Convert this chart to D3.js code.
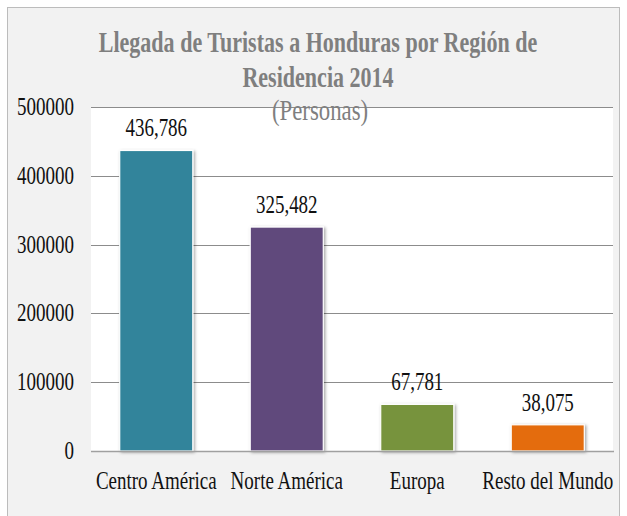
<!DOCTYPE html>
<html>
<head>
<meta charset="utf-8">
<script src="https://cdn.jsdelivr.net/npm/d3@7.9.0/dist/d3.min.js"></script>
<style>
  body { margin: 0; background: #fff; }
  svg { display: block; }
</style>
</head>
<body>
<div id="chart"></div>
<script>
// data
const regions = ["Centro América", "Norte América", "Europa", "Resto del Mundo"];
const arrivals = [436786, 325482, 67781, 38075];
const barColors = ["#31849b", "#604a7b", "#77933c", "#e46c0a"];
const yTicks = [0, 100000, 200000, 300000, 400000, 500000];
const titleLines = ["Llegada de Turistas a Honduras por Región de", "Residencia 2014"];
const subtitle = "(Personas)";

const width = 627, height = 516;
const plot = { left: 91, right: 613, top: 107, bottom: 451 };
const squeeze = 0.76; // glyphs in the picture are narrow
const font = "'Liberation Serif', 'Times New Roman', serif";

const svg = d3.select("#chart").append("svg")
    .attr("width", width)
    .attr("height", height);

const defs = svg.append("defs");
const shadow = defs.append("filter").attr("id", "shadow")
    .attr("x", "-20%").attr("y", "-20%").attr("width", "140%").attr("height", "140%");
shadow.append("feDropShadow")
    .attr("dx", 1.5).attr("dy", 1).attr("stdDeviation", 1.6)
    .attr("flood-color", "#000").attr("flood-opacity", 0.35);

// chart background
svg.append("rect")
    .attr("x", 7.5).attr("y", 7.5)
    .attr("width", 612).attr("height", 530)
    .attr("fill", "#f2f2f2")
    .attr("stroke", "#bcbcbc");

svg.append("rect")
    .attr("x", plot.left).attr("y", plot.top)
    .attr("width", plot.right - plot.left).attr("height", plot.bottom - plot.top)
    .attr("fill", "#fff");

const x = d3.scaleBand()
    .domain(regions)
    .range([plot.left, plot.right])
    .paddingInner(0.44)
    .paddingOuter(0.22);

const y = d3.scaleLinear()
    .domain([0, 500000])
    .range([plot.bottom, plot.top]);

// narrow text helper
function label(g, tx, ty, str, size, anchor, opts = {}) {
    return g.append("text")
        .attr("transform", `translate(${tx},${ty}) scale(${squeeze},1)`)
        .attr("text-anchor", anchor)
        .attr("font-family", font)
        .attr("font-size", size)
        .attr("font-weight", opts.bold ? "bold" : "normal")
        .attr("fill", opts.color || "#111")
        .text(str);
}

// gridlines
svg.append("g").selectAll("line")
    .data(yTicks.filter(d => d > 0))
    .join("line")
    .attr("x1", plot.left).attr("x2", plot.right)
    .attr("y1", d => Math.round(y(d)) + 0.5).attr("y2", d => Math.round(y(d)) + 0.5)
    .attr("stroke", "#8c8c8c").attr("stroke-width", 1);

// y axis labels
const yAxis = svg.append("g");
yTicks.forEach(t => label(yAxis, 74, y(t) + 8, String(t), 25, "end"));

// bars
svg.append("g").selectAll("rect")
    .data(arrivals)
    .join("rect")
    .attr("x", (d, i) => x(regions[i]))
    .attr("y", d => y(d))
    .attr("width", x.bandwidth())
    .attr("height", d => y(0) - y(d))
    .attr("fill", (d, i) => barColors[i])
    .attr("stroke", "#fff")
    .attr("stroke-width", 1.2)
    .attr("filter", "url(#shadow)");

// x axis line
svg.append("line")
    .attr("x1", plot.left).attr("x2", plot.right + 1)
    .attr("y1", plot.bottom + 0.5).attr("y2", plot.bottom + 0.5)
    .attr("stroke", "#a0a0a0").attr("stroke-width", 1.5);

// value labels
const vals = svg.append("g");
arrivals.forEach((v, i) => {
    label(vals, x(regions[i]) + x.bandwidth() / 2, y(v) - 14, d3.format(",")(v), 25, "middle");
});

// category labels
const cats = svg.append("g");
regions.forEach(r => label(cats, x(r) + x.bandwidth() / 2, 489, r, 25, "middle"));

// title
const title = svg.append("g");
label(title, 318, 52, titleLines[0], 29, "middle", { bold: true, color: "#7f7f7f" });
label(title, 318, 87, titleLines[1], 29, "middle", { bold: true, color: "#7f7f7f" });
label(title, 320, 120, subtitle, 30, "middle", { color: "#7f7f7f" });
</script>
</body>
</html>
